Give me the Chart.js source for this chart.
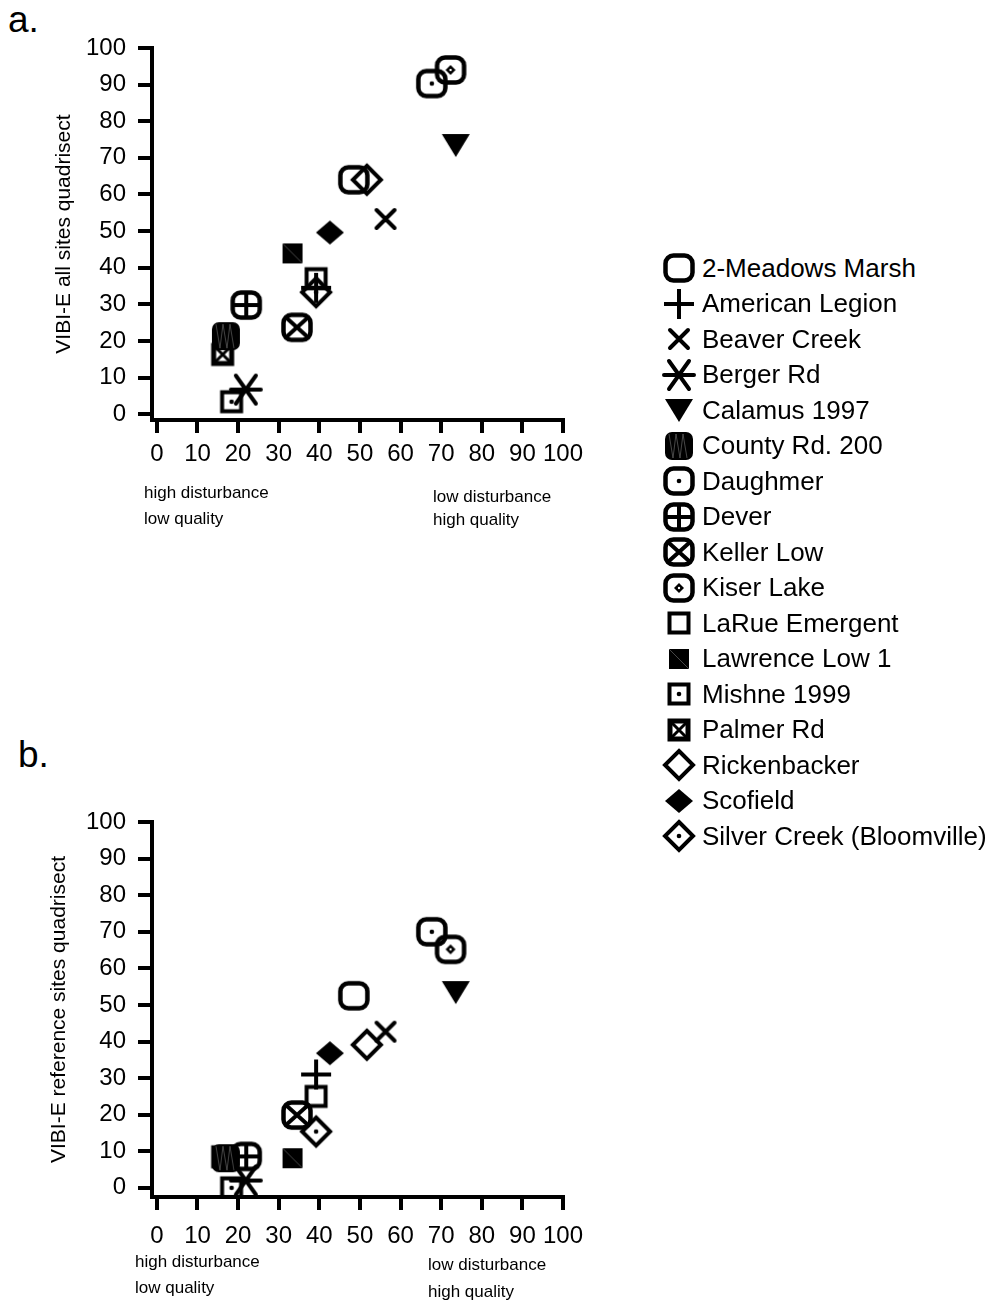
<!DOCTYPE html>
<html>
<head>
<meta charset="utf-8">
<script src="https://cdn.jsdelivr.net/npm/chart.js@4.4.0/dist/chart.umd.min.js"></script>
<style>
  body { margin: 0; background: #fff; font-family: 'Liberation Sans', Arial, sans-serif; color: #000; }
  #page { position: relative; width: 995px; height: 1304px; overflow: hidden; }
  canvas.chart { position: absolute; left: 0; }
  .note { position: absolute; font-size: 17px; line-height: 20px; white-space: nowrap; }
  .panel { position: absolute; font-size: 37px; line-height: 37px; }
  .item { position: absolute; left: 659px; height: 40px; display: flex; align-items: center; white-space: nowrap; font-size: 26px; }
  .item span { margin-left: 3px; }
</style>
</head>
<body>
<div id="page">
  <div class="panel" style="left:8px;top:1px">a.</div>
  <div class="panel" style="left:18px;top:736px">b.</div>
  <canvas id="chartA" class="chart" width="600" height="540" style="top:0"></canvas>
  <canvas id="chartB" class="chart" width="600" height="604" style="top:700px"></canvas>
  <div class="note" style="left:144px;top:483px">high disturbance</div>
  <div class="note" style="left:144px;top:509px">low quality</div>
  <div class="note" style="left:433px;top:487px">low disturbance</div>
  <div class="note" style="left:433px;top:510px">high quality</div>
  <div class="note" style="left:135px;top:1252px">high disturbance</div>
  <div class="note" style="left:135px;top:1278px">low quality</div>
  <div class="note" style="left:428px;top:1255px">low disturbance</div>
  <div class="note" style="left:428px;top:1282px">high quality</div>
  <div id="legend"></div>
</div>
<script>
const sites = ['2-Meadows Marsh', 'American Legion', 'Beaver Creek', 'Berger Rd', 'Calamus 1997', 'County Rd. 200', 'Daughmer', 'Dever', 'Keller Low', 'Kiser Lake', 'LaRue Emergent', 'Lawrence Low 1', 'Mishne 1999', 'Palmer Rd', 'Rickenbacker', 'Scofield', 'Silver Creek (Bloomville)'];
// x: disturbance score (same in both panels)
const disturbance = [48.5, 39.2, 56.3, 21.9, 73.6, 17.0, 67.7, 22.0, 34.5, 72.3, 39.2, 33.4, 18.4, 16.2, 51.7, 42.6, 39.2];
// panel a: VIBI-E all sites quadrisect
const allSites = [64, 34.5, 53.3, 6.7, 73.5, 21.3, 90.3, 29.8, 23.7, 94, 37, 43.9, 3.4, 16.3, 64, 49.6, 33.3];
// panel b: VIBI-E reference sites quadrisect
const refSites = [52.5, 31, 42.7, 2, 53.5, 8.1, 70, 8.6, 19.9, 65.2, 25, 8.1, 0, 8.5, 39.1, 36.8, 15.4];
const markerKinds = ['roundSq', 'plus', 'cross', 'asterisk', 'triDown', 'hatchSq', 'roundSqDot', 'roundSqPlus', 'roundSqX', 'roundSqDiamond', 'square', 'fillSq', 'squareDot', 'squareX', 'diamond', 'fillDiamond', 'diamondDot'];
const tickValues = [0, 10, 20, 30, 40, 50, 60, 70, 80, 90, 100];

const FONT = "'Liberation Sans', Arial, sans-serif";
Chart.defaults.font.family = FONT;
Chart.defaults.color = '#000';

// marker pictures, drawn once and handed to chart.js as pointStyle
function makeMarker(kind) {
  const c = document.createElement('canvas');
  c.width = 40;
  c.height = 40;
  const ctx = c.getContext('2d');
  ctx.translate(20, 20);
  ctx.strokeStyle = '#000';
  ctx.fillStyle = '#000';
  ctx.lineWidth = 4;

  function box() {
    ctx.lineWidth = 4.5;
    ctx.beginPath();
    ctx.roundRect(-13.5, -12.5, 27, 25, 8);
    ctx.stroke();
    ctx.lineWidth = 4;
  }
  function dot() {
    ctx.beginPath();
    ctx.arc(0, 0, 2.3, 0, Math.PI * 2);
    ctx.fill();
  }
  function diamond() {
    ctx.beginPath();
    ctx.moveTo(0, -14); ctx.lineTo(14, 0); ctx.lineTo(0, 14); ctx.lineTo(-14, 0);
    ctx.closePath();
    ctx.stroke();
  }

  switch (kind) {
    case 'roundSq':
      box();
      break;
    case 'plus':
      ctx.beginPath();
      ctx.moveTo(-15, 0); ctx.lineTo(15, 0);
      ctx.moveTo(0, -15); ctx.lineTo(0, 15);
      ctx.stroke();
      break;
    case 'cross':
      ctx.lineCap = 'round';
      ctx.beginPath();
      ctx.moveTo(-9, -9); ctx.lineTo(9, 9);
      ctx.moveTo(9, -9); ctx.lineTo(-9, 9);
      ctx.stroke();
      break;
    case 'asterisk':
      ctx.lineCap = 'round';
      ctx.beginPath();
      ctx.moveTo(-15, 0); ctx.lineTo(15, 0);
      ctx.moveTo(-10, -14); ctx.lineTo(10, 14);
      ctx.moveTo(10, -14); ctx.lineTo(-10, 14);
      ctx.stroke();
      break;
    case 'triDown':
      ctx.beginPath();
      ctx.moveTo(-14, -11); ctx.lineTo(14, -11); ctx.lineTo(0, 12);
      ctx.closePath();
      ctx.fill();
      break;
    case 'hatchSq':
      ctx.beginPath();
      ctx.roundRect(-14, -14, 28, 28, 7);
      ctx.fill();
      ctx.strokeStyle = '#666';
      ctx.lineWidth = 0.7;
      ctx.beginPath();
      ctx.moveTo(-10, -12); ctx.lineTo(-6, 12); ctx.lineTo(-3, -12); ctx.lineTo(1, 12); ctx.lineTo(4, -12); ctx.lineTo(8, 12);
      ctx.stroke();
      break;
    case 'roundSqDot':
      box(); dot();
      break;
    case 'roundSqPlus':
      box();
      ctx.beginPath();
      ctx.moveTo(-14, 0); ctx.lineTo(14, 0);
      ctx.moveTo(0, -13); ctx.lineTo(0, 13);
      ctx.stroke();
      break;
    case 'roundSqX':
      box();
      ctx.beginPath();
      ctx.moveTo(-10, -9); ctx.lineTo(10, 9);
      ctx.moveTo(10, -9); ctx.lineTo(-10, 9);
      ctx.stroke();
      break;
    case 'roundSqDiamond':
      box();
      ctx.beginPath();
      ctx.moveTo(0, -5); ctx.lineTo(5, 0); ctx.lineTo(0, 5); ctx.lineTo(-5, 0);
      ctx.closePath();
      ctx.fill();
      ctx.fillStyle = '#fff';
      ctx.beginPath();
      ctx.arc(0, 0, 1.2, 0, Math.PI * 2);
      ctx.fill();
      break;
    case 'square':
      ctx.strokeRect(-9.5, -9.5, 19, 19);
      break;
    case 'fillSq':
      ctx.fillRect(-10, -10, 20, 20);
      ctx.strokeStyle = '#777';
      ctx.lineWidth = 0.6;
      ctx.beginPath();
      ctx.moveTo(-10, -10); ctx.lineTo(10, 10);
      ctx.stroke();
      break;
    case 'squareDot':
      ctx.strokeRect(-9.5, -9.5, 19, 19);
      dot();
      break;
    case 'squareX':
      ctx.lineWidth = 5;
      ctx.strokeRect(-9, -9, 18, 18);
      ctx.lineWidth = 3;
      ctx.beginPath();
      ctx.moveTo(-7, -7); ctx.lineTo(7, 7);
      ctx.moveTo(7, -7); ctx.lineTo(-7, 7);
      ctx.stroke();
      break;
    case 'diamond':
      diamond();
      break;
    case 'fillDiamond':
      ctx.beginPath();
      ctx.moveTo(0, -12); ctx.lineTo(14, 0); ctx.lineTo(0, 12); ctx.lineTo(-14, 0);
      ctx.closePath();
      ctx.fill();
      break;
    case 'diamondDot':
      diamond(); dot();
      break;
  }
  return c;
}

const markers = markerKinds.map(makeMarker);

function makeDatasets(yValues) {
  return sites.map((name, i) => ({
    label: name,
    data: [{x: disturbance[i], y: yValues[i]}],
    pointStyle: markers[i],
    pointRadius: 14,
    showLine: false
  }));
}

function setTicks(scale) {
  scale.ticks = tickValues.map(v => ({value: v}));
}

function makeChart(id, yValues, opts) {
  new Chart(document.getElementById(id), {
    type: 'scatter',
    data: {datasets: makeDatasets(yValues)},
    options: {
      responsive: false,
      animation: false,
      devicePixelRatio: 1,
      layout: {padding: {left: 0, top: opts.top, right: 37, bottom: 0}},
      plugins: {legend: {display: false}, tooltip: {enabled: false}},
      scales: {
        x: {
          type: 'linear',
          min: -1.2,
          max: 100,
          afterBuildTicks: setTicks,
          afterFit: s => { s.height = opts.xHeight; },
          grid: {drawOnChartArea: false, tickLength: 13, lineWidth: 4, color: '#000'},
          border: {color: '#000', width: 4},
          ticks: {color: '#000', font: {size: 24}, padding: opts.xPad, maxRotation: 0, autoSkip: false}
        },
        y: {
          type: 'linear',
          min: opts.yMin,
          max: 100,
          afterBuildTicks: setTicks,
          afterFit: s => { s.width = 152; },
          grid: {drawOnChartArea: false, tickLength: 14, lineWidth: 4, color: '#000'},
          border: {color: '#000', width: 4},
          ticks: {color: '#000', font: {size: 24}, padding: 12, autoSkip: false},
          title: {display: true, text: opts.title, color: '#000', font: {size: 21}, padding: {top: opts.titlePad, bottom: 0}}
        }
      }
    }
  });
}

makeChart('chartA', allSites, {top: 48, xHeight: 120, xPad: 7, yMin: -1.6, title: 'VIBI-E all sites quadrisect', titlePad: 52});
makeChart('chartB', refSites, {top: 122, xHeight: 107, xPad: 12, yMin: -2.5, title: 'VIBI-E reference sites quadrisect', titlePad: 47});

// legend on the right, one row per site
const legend = document.getElementById('legend');
sites.forEach((name, i) => {
  const row = document.createElement('div');
  row.className = 'item';
  row.style.top = (268 + i * 35.5 - 20) + 'px';
  const icon = document.createElement('canvas');
  icon.width = 40;
  icon.height = 40;
  icon.getContext('2d').drawImage(markers[i], 0, 0);
  const text = document.createElement('span');
  text.textContent = name;
  row.appendChild(icon);
  row.appendChild(text);
  legend.appendChild(row);
});
</script>
</body>
</html>
